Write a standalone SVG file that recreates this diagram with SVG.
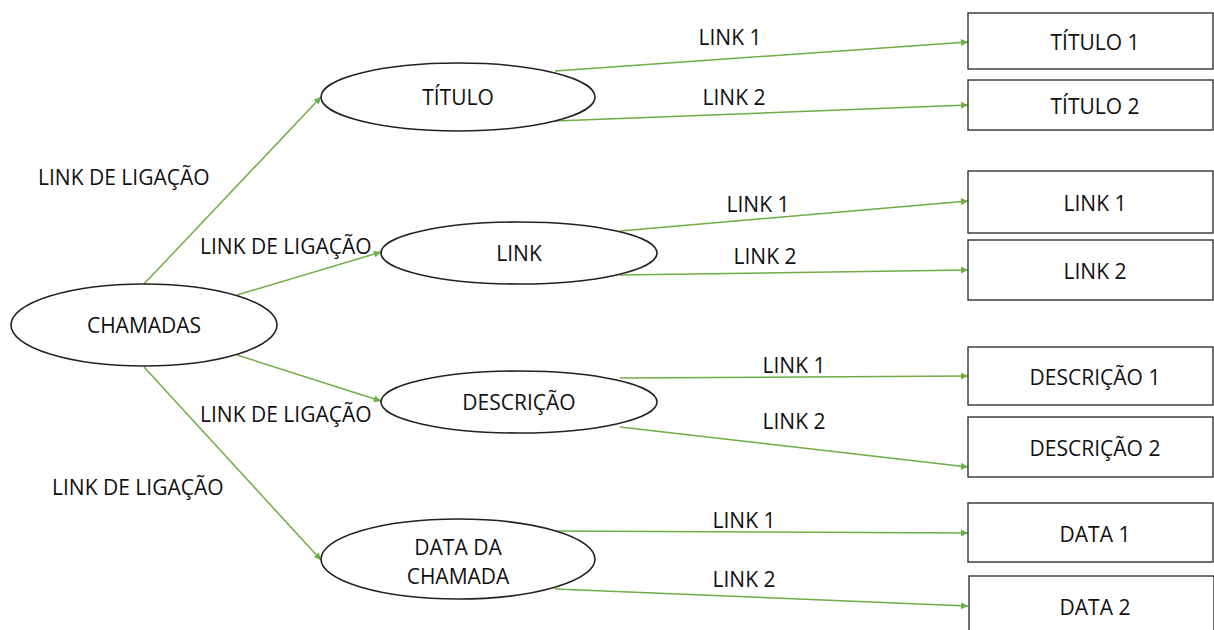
<svg xmlns="http://www.w3.org/2000/svg" width="1214" height="630" viewBox="0 0 1214 630">
  <defs>
    <marker id="arrow" viewBox="0 0 10 10" refX="10" refY="5" markerWidth="8" markerHeight="7" orient="auto" markerUnits="userSpaceOnUse">
      <path d="M0,0 L10,5 L0,10 z" fill="#70AD47"/>
    </marker>
    <style>
      .ell { fill: #fff; stroke: #222; stroke-width: 1.6; }
      .box { fill: #fff; stroke: #333; stroke-width: 1.4; }
      .lbl { font-family: "Open Sans", "Noto Sans", sans-serif; font-size: 21px; fill: #111; text-anchor: middle; }
      .el  { font-family: "Open Sans", "Noto Sans", sans-serif; font-size: 21px; fill: #111; }
      .con { stroke: #70AD47; stroke-width: 1.5; fill: none; marker-end: url(#arrow); }
    </style>
  </defs>
  <rect width="1214" height="630" fill="#fff"/>

  <!-- connectors -->
  <g id="connectors">
    <line class="con" x1="144" y1="284" x2="321" y2="97"/>
    <line class="con" x1="237" y1="295" x2="381" y2="252"/>
    <line class="con" x1="237" y1="355" x2="381" y2="401"/>
    <line class="con" x1="144" y1="367" x2="321" y2="560"/>

    <line class="con" x1="555" y1="71" x2="968" y2="42"/>
    <line class="con" x1="555" y1="121" x2="968" y2="105"/>
    <line class="con" x1="620" y1="231" x2="968" y2="201"/>
    <line class="con" x1="620" y1="275" x2="968" y2="270"/>
    <line class="con" x1="620" y1="378" x2="968" y2="376"/>
    <line class="con" x1="620" y1="427" x2="968" y2="467"/>
    <line class="con" x1="555" y1="531" x2="968" y2="533"/>
    <line class="con" x1="555" y1="589" x2="968" y2="606"/>

    <text class="el" x="38" y="185">LINK DE LIGAÇÃO</text>
    <text class="el" x="200" y="254">LINK DE LIGAÇÃO</text>
    <text class="el" x="200" y="422">LINK DE LIGAÇÃO</text>
    <text class="el" x="52" y="495">LINK DE LIGAÇÃO</text>

    <text class="lbl" x="730" y="45">LINK 1</text>
    <text class="lbl" x="734" y="105">LINK 2</text>
    <text class="lbl" x="758" y="212">LINK 1</text>
    <text class="lbl" x="765" y="264">LINK 2</text>
    <text class="lbl" x="794" y="373">LINK 1</text>
    <text class="lbl" x="794" y="429">LINK 2</text>
    <text class="lbl" x="744" y="528">LINK 1</text>
    <text class="lbl" x="744" y="587">LINK 2</text>
  </g>

  <!-- central node -->
  <g id="chamadas">
    <ellipse class="ell" cx="144" cy="325" rx="133" ry="41"/>
    <text class="lbl" x="144" y="333">CHAMADAS</text>
  </g>

  <!-- category nodes -->
  <g id="titulo">
    <ellipse class="ell" cx="458" cy="97" rx="137" ry="34"/>
    <text class="lbl" x="458" y="105">TÍTULO</text>
  </g>
  <g id="link">
    <ellipse class="ell" cx="519" cy="253" rx="138" ry="31"/>
    <text class="lbl" x="519" y="261">LINK</text>
  </g>
  <g id="descricao">
    <ellipse class="ell" cx="519" cy="402" rx="138" ry="31"/>
    <text class="lbl" x="519" y="410">DESCRIÇÃO</text>
  </g>
  <g id="data-da-chamada">
    <ellipse class="ell" cx="458" cy="559" rx="137" ry="40"/>
    <text class="lbl" x="458" y="555">DATA DA</text>
    <text class="lbl" x="458" y="584">CHAMADA</text>
  </g>

  <!-- leaf nodes -->
  <g id="titulo-1">
    <rect class="box" x="968" y="13" width="245" height="56"/>
    <text class="lbl" x="1095" y="50">TÍTULO 1</text>
  </g>
  <g id="titulo-2">
    <rect class="box" x="968" y="80" width="245" height="50"/>
    <text class="lbl" x="1095" y="114">TÍTULO 2</text>
  </g>
  <g id="link-1">
    <rect class="box" x="968" y="171" width="245" height="62"/>
    <text class="lbl" x="1095" y="211">LINK 1</text>
  </g>
  <g id="link-2">
    <rect class="box" x="968" y="240" width="245" height="60"/>
    <text class="lbl" x="1095" y="279">LINK 2</text>
  </g>
  <g id="descricao-1">
    <rect class="box" x="968" y="347" width="245" height="58"/>
    <text class="lbl" x="1095" y="385">DESCRIÇÃO 1</text>
  </g>
  <g id="descricao-2">
    <rect class="box" x="968" y="417" width="245" height="60"/>
    <text class="lbl" x="1095" y="456">DESCRIÇÃO 2</text>
  </g>
  <g id="data-1">
    <rect class="box" x="968" y="503" width="245" height="59"/>
    <text class="lbl" x="1095" y="542">DATA 1</text>
  </g>
  <g id="data-2">
    <rect class="box" x="969" y="576" width="245" height="60"/>
    <text class="lbl" x="1095" y="615">DATA 2</text>
  </g>
</svg>
